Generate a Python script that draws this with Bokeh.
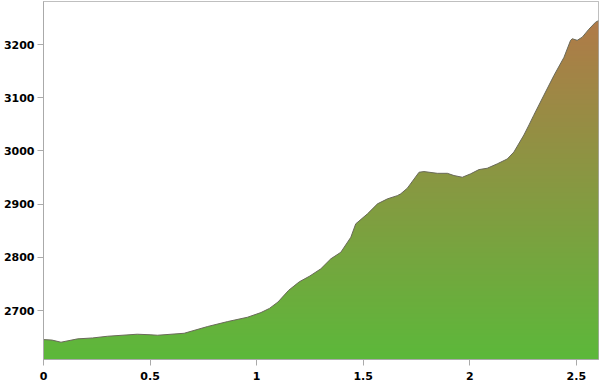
import numpy as np
from bokeh.plotting import figure
from bokeh.models import Range1d, FixedTicker
from bokeh.embed import file_html
from bokeh.resources import INLINE

# distance (x) and elevation (y)
dist = [0.0, 0.04, 0.082, 0.16, 0.23, 0.30, 0.44, 0.50, 0.535, 0.66, 0.77, 0.864,
        0.957, 1.02, 1.06, 1.10, 1.15, 1.20, 1.25, 1.301, 1.348, 1.395, 1.442, 1.465,
        1.52, 1.567, 1.614, 1.66, 1.676, 1.707, 1.762, 1.785, 1.848, 1.895, 1.926,
        1.965, 2.004, 2.043, 2.082, 2.129, 2.176, 2.207, 2.254, 2.278, 2.30, 2.348,
        2.395, 2.442, 2.473, 2.481, 2.504, 2.528, 2.559, 2.59, 2.604]
elev = [2645.5, 2644.5, 2640.5, 2646.8, 2648.5, 2651.7, 2655.5, 2654.5, 2653.6, 2657.3,
        2670, 2679.3, 2687.4, 2696.2, 2704, 2716, 2738, 2754, 2765, 2778.4, 2797.2,
        2809.6, 2837.8, 2863, 2881.8, 2900.6, 2910, 2916, 2919.4, 2930, 2960, 2961.3,
        2958, 2958, 2953.8, 2950.6, 2957, 2965, 2967.5, 2975.8, 2985, 2998, 3030,
        3049, 3067, 3105, 3142, 3176, 3208, 3211, 3208, 3214, 3229, 3242, 3245]
x_ticks = [0, 0.5, 1, 1.5, 2, 2.5]
x_tick_labels = ["0", "0.5", "1", "1.5", "2", "2.5"]
y_ticks = [2700, 2800, 2900, 3000, 3100, 3200]

X0, X1 = 0.0, 2.604
Y0, Y1 = 2608, 3281

p = figure(width=600, height=383, output_backend="svg", toolbar_location=None,
           x_range=Range1d(X0, X1), y_range=Range1d(Y0, Y1),
           min_border_left=42, min_border_right=2, min_border_top=1, min_border_bottom=24)
p.xgrid.visible = False
p.ygrid.visible = False
p.background_fill_color = "white"
p.border_fill_color = "white"
p.outline_line_color = "#aaaaaa"
p.outline_line_width = 1

# vertical gradient image (green bottom -> brown top)
top_c = np.array([0xb0, 0x7a, 0x48], dtype=float)
bot_c = np.array([0x5c, 0xb8, 0x3a], dtype=float)
ymax = max(elev)
n = 256
img = np.empty((n, 1), dtype=np.uint32)
view = img.view(dtype=np.uint8).reshape((n, 1, 4))
for i in range(n):
    t = i / (n - 1)
    c = bot_c + (top_c - bot_c) * t
    view[i, 0, 0] = int(round(c[0]))
    view[i, 0, 1] = int(round(c[1]))
    view[i, 0, 2] = int(round(c[2]))
    view[i, 0, 3] = 255
p.image_rgba(image=[img], x=X0, y=Y0, dw=X1 - X0, dh=ymax - Y0)

# mask above the profile
p.varea(x=dist, y1=elev, y2=[Y1] * len(dist), fill_color="white", fill_alpha=1.0)
p.line(dist, elev, line_color="#6a6a5a", line_width=1)

for ax in (p.xaxis[0], p.yaxis[0]):
    ax.axis_line_color = "#aaaaaa"
    ax.major_tick_line_color = "#aaaaaa"
    ax.minor_tick_line_color = None
    ax.major_tick_out = 6
    ax.major_tick_in = 0
    ax.major_label_text_font = "DejaVu Sans"
    ax.major_label_text_font_style = "bold"
    ax.major_label_text_font_size = "11px"
    ax.major_label_text_color = "black"

p.xaxis.ticker = FixedTicker(ticks=x_ticks)
p.xaxis.major_label_overrides = {t: l for t, l in zip(x_ticks, x_tick_labels)}
p.yaxis.ticker = FixedTicker(ticks=y_ticks)
p.xaxis.major_label_standoff = 6
p.yaxis.major_label_standoff = 3

open("out.html", "w").write(file_html(p, INLINE))
